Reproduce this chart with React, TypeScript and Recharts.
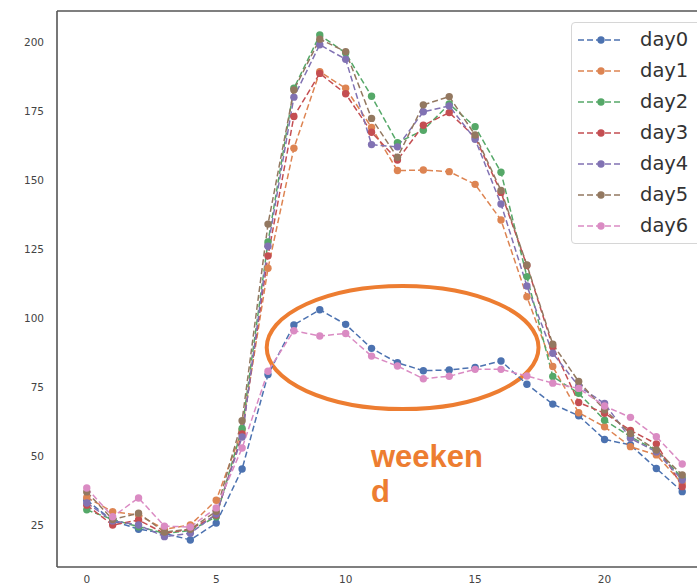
import React from "react";
import {
  LineChart,
  Line,
  XAxis,
  YAxis,
  Legend,
  ReferenceArea,
  ReferenceLine,
} from "recharts";

const hours = [0, 1, 2, 3, 4, 5, 6, 7, 8, 9, 10, 11, 12, 13, 14, 15, 16, 17, 18, 19, 20, 21, 22, 23];

const day0 = [34, 26.5, 23.5, 22, 19.6, 25.7, 45.3, 79.5, 97.5, 103, 97.7, 89, 83.8, 80.9, 81.2, 82.1, 84.4, 76, 68.8, 64.6, 56, 54, 45.5, 37.1];
const day1 = [35, 29.8, 28.6, 23.5, 25, 34, 59.4, 118, 161.5, 189.2, 183.2, 169, 153.4, 153.6, 153, 148.4, 135.5, 107.7, 82.4, 65.7, 60.6, 53.4, 50.4, 40];
const day2 = [30.5, 27, 24.4, 22, 23, 28, 60, 127.5, 183.2, 202.5, 196, 180.3, 163.5, 168, 177.5, 169.3, 152.8, 115, 78.8, 72.7, 63, 57, 52, 42];
const day3 = [32.2, 25, 26.8, 22, 23.5, 28.6, 58, 122.5, 173, 188.6, 181.2, 167.3, 157.2, 169.8, 174.4, 165.5, 145.5, 119, 89.6, 69.4, 65.5, 59.3, 54.4, 38.9];
const day4 = [33, 26.5, 25, 20.8, 22, 29, 56.9, 126, 180, 199, 193.7, 162.8, 162, 174.7, 176.8, 164.7, 141.3, 111.6, 87.2, 75.3, 69, 56.4, 51.5, 41.3];
const day5 = [37, 27, 29.3, 22.5, 23.5, 30, 62.8, 134, 182.6, 201, 196.5, 172.3, 158.2, 177.2, 180.2, 166.3, 146.2, 119.2, 90.5, 77, 66.7, 58.2, 52.2, 43.1];
const day6 = [38.4, 28, 34.8, 24.6, 24.3, 31.2, 52.9, 80.7, 95.4, 93.5, 94.4, 86.2, 82.6, 78, 78.9, 81.4, 81.4, 79, 76.4, 74.5, 68.1, 64, 57, 47.1];

const seriesNames = ["day0", "day1", "day2", "day3", "day4", "day5", "day6"];
const seriesValues = [day0, day1, day2, day3, day4, day5, day6];
const seriesColors = ["#4C72B0", "#DD8452", "#55A868", "#C44E52", "#8172B3", "#937860", "#DA8BC3"];

const xTicks = [0, 5, 10, 15, 20];
const yTicks = [25, 50, 75, 100, 125, 150, 175, 200];
const xDomain = [-1.15, 24.15];
const yDomain = [9.8, 211.2];

const annotationText = ["weeken", "d"];
// ellipse bounds in data units
const ellipseX = [6.95, 17.45];
const ellipseY = [67, 111.6];

const data = hours.map((h, i) => {
  const row: Record<string, number> = { hour: h };
  seriesNames.forEach((n, k) => {
    row[n] = seriesValues[k][i];
  });
  return row;
});

const tickStyle = { fill: "#444", fontSize: 10.5, fontFamily: "DejaVu Sans" };
const frameColor = "#555";

const EllipseShape = (props: any) => {
  const { x, y, width, height } = props;
  return (
    <ellipse
      cx={x + width / 2}
      cy={y + height / 2}
      rx={width / 2}
      ry={height / 2}
      fill="none"
      stroke="#ED7D31"
      strokeWidth={4}
    />
  );
};

const LegendBox = (props: any) => {
  const payload = props.payload || [];
  return (
    <div
      style={{
        width: 150,
        height: 222,
        border: "1px solid #d6d6d6",
        borderRadius: 4,
        background: "rgba(255,255,255,0.9)",
        boxSizing: "border-box",
        position: "relative",
      }}
    >
      {payload.map((p: any, i: number) => (
        <div
          key={p.value}
          style={{
            position: "absolute",
            left: 0,
            top: 17 + i * 31 - 15,
            height: 30,
            display: "flex",
            alignItems: "center",
          }}
        >
          <svg width={60} height={30} style={{ display: "block" }}>
            <line x1={6} x2={49} y1={15} y2={15} stroke={p.color} strokeWidth={1.5} strokeDasharray="6 3" />
            <circle cx={29} cy={15} r={3.7} fill={p.color} />
          </svg>
          <span
            style={{
              marginLeft: 8,
              fontFamily: "DejaVu Sans",
              fontSize: 19.5,
              color: "#333",
              lineHeight: "30px",
            }}
          >
            {p.value}
          </span>
        </div>
      ))}
    </div>
  );
};

export default function App() {
  return (
    <div
      style={{
        position: "absolute",
        left: 0,
        top: 0,
        width: 697,
        height: 588,
        overflow: "hidden",
        background: "#fff",
      }}
    >
      <LineChart
        width={720}
        height={588}
        data={data}
        margin={{ top: 11, right: 8, bottom: 0, left: 0 }}
      >
        <XAxis
          dataKey="hour"
          type="number"
          domain={xDomain}
          ticks={xTicks}
          allowDataOverflow
          height={21}
          tickSize={0}
          tickMargin={9}
          tick={tickStyle}
          axisLine={{ stroke: frameColor, strokeWidth: 1.6 }}
        />
        <YAxis
          type="number"
          domain={yDomain}
          ticks={yTicks}
          allowDataOverflow
          width={57}
          tickSize={0}
          tickMargin={13}
          tick={tickStyle}
          axisLine={{ stroke: frameColor, strokeWidth: 1.6 }}
        />
        <ReferenceLine
          y={yDomain[1]}
          ifOverflow="visible"
          stroke={frameColor}
          strokeWidth={1.6}
        />
        {seriesNames.map((n, k) => (
          <Line
            key={n}
            dataKey={n}
            name={n}
            type="linear"
            stroke={seriesColors[k]}
            strokeWidth={1.5}
            strokeDasharray="6 3"
            dot={{ r: 3.7, fill: seriesColors[k], stroke: "none", fillOpacity: 1 }}
            activeDot={false}
            isAnimationActive={false}
          />
        ))}
        <ReferenceArea
          x1={ellipseX[0]}
          x2={ellipseX[1]}
          y1={ellipseY[0]}
          y2={ellipseY[1]}
          ifOverflow="visible"
          shape={EllipseShape}
        />
        <Legend
          layout="horizontal"
          verticalAlign="middle"
          align="center"
          content={LegendBox}
          wrapperStyle={{ position: "absolute", left: 571, top: 22, width: 150, height: 222 }}
        />
      </LineChart>
      <div
        style={{
          position: "absolute",
          left: 371,
          top: 439,
          fontFamily: "Liberation Sans",
          fontWeight: "bold",
          fontSize: 31,
          lineHeight: "35px",
          color: "#ED7D31",
        }}
      >
        {annotationText[0]}
        <br />
        {annotationText[1]}
      </div>
    </div>
  );
}
